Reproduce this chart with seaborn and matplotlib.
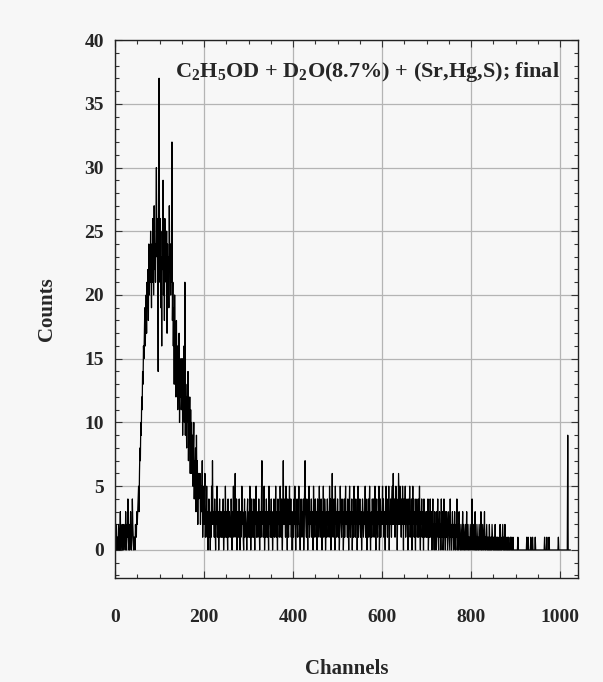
import numpy as np
import matplotlib.pyplot as plt
import seaborn as sns
from matplotlib.ticker import MultipleLocator

# counts per channel (estimated)
counts_low = [1, 0, 1, 2, 0, 1, 1, 0, 2, 1, 0, 1, 3, 0, 1, 1, 2, 0, 1, 0,
              2, 1, 1, 0, 3, 1, 0, 2, 1, 4, 1, 0, 2, 0, 1, 3, 1, 0, 1, 4,
              2, 1, 0, 1, 1, 0, 2, 1, 1, 3]
counts_rise = [2, 3, 4, 5, 3, 6, 8, 7, 10, 9, 12, 11, 14, 13, 16, 15, 17, 19, 16, 18,
               20, 17, 21, 19, 22, 18, 24, 20, 23, 21, 25, 22, 19, 24, 21, 26, 23, 20, 27, 22,
               24, 21, 25, 30, 23, 26, 22, 14, 28, 37]
counts_peak = [24, 21, 26, 19, 23, 16, 25, 22, 29, 20, 24, 18, 26, 22, 25, 21, 25, 17, 24, 20,
               23, 19, 27, 22, 24, 20, 24, 21, 32, 18, 21, 16, 19, 13, 20, 15, 17, 12, 18, 14,
               16, 11, 15, 13, 17, 10, 14, 12, 15, 11]
counts_fall = [12, 15, 9, 13, 11, 16, 10, 21, 9, 13, 11, 8, 12, 10, 14, 7, 11, 9, 12, 6,
               11, 6, 10, 7, 9, 5, 8, 10, 4, 7, 6, 8, 3, 9, 5, 7, 2, 6, 4, 6,
               5, 6, 2, 5, 3, 4, 7, 1, 3, 5, 2, 4, 6, 1, 3, 2, 5, 1, 3, 0,
               2, 4, 1, 3, 0, 2, 1, 5, 2, 7]
counts_tail_a = [3, 2, 3, 1, 4, 2, 0, 3, 2, 5, 1, 2, 3, 0, 2, 4, 1, 3, 2, 1,
                 3, 1, 2, 4, 0, 2, 3, 1, 5, 2, 1, 3, 2, 0, 4, 2, 1, 3, 2, 2,
                 1, 4, 2, 0, 3, 2, 5, 1, 2, 3, 6, 2, 1, 4, 0, 2, 3, 1, 2, 4,
                 2, 0, 3, 1, 2, 5, 2, 3, 1, 0, 2, 4, 1, 3, 2, 2, 0, 3, 4, 1,
                 2, 3, 1, 5, 2, 0, 2, 4, 1, 3, 2, 1, 4, 2, 0, 3, 2, 5, 1, 2,
                 3, 1, 2, 4, 2, 0, 3, 2, 1, 4, 7, 2, 3, 1, 2, 5, 0, 2, 3, 1,
                 4, 2, 1, 3, 2, 0, 5, 2, 3, 1, 2, 4, 1, 3, 0, 2, 2, 4, 1, 3,
                 2, 5, 1, 3, 2, 0, 4, 2, 3, 1, 2, 5, 3, 1, 4, 2, 0, 3, 7, 2,
                 4, 2, 3, 1, 5, 2, 3, 0, 4, 2, 1, 3, 5, 2, 2, 4, 1, 3, 0, 2,
                 3, 1, 4, 2, 5, 2, 0, 3, 2, 4, 1, 3, 2, 5, 1, 2, 0, 3, 4, 2,
                 1, 3, 2, 4, 0, 2, 5, 7, 3, 2, 1, 4, 2, 0, 3, 2, 5, 1, 2, 3,
                 2, 4, 1, 3, 2, 0, 5, 2, 3, 1, 4, 2, 2, 3, 0, 4, 1, 3, 2, 5,
                 2, 1, 3, 4, 2, 0, 3, 2, 5, 1, 2, 4, 3, 0, 2, 3, 1, 4, 2, 2,
                 3, 1, 5, 2, 4, 0, 2, 3, 6, 2, 1, 3, 4, 2, 0, 5, 2, 3, 1, 2]
counts_tail_b = [4, 2, 1, 3, 0, 2, 5, 3, 2, 1, 4, 2, 3, 0, 2, 4, 1, 3, 5, 2,
                 2, 3, 1, 4, 2, 0, 3, 5, 2, 1, 3, 2, 4, 0, 2, 3, 1, 5, 2, 3,
                 1, 4, 2, 3, 0, 2, 5, 1, 3, 2, 4, 2, 1, 3, 0, 2, 4, 3, 1, 2,
                 3, 2, 5, 1, 4, 2, 0, 3, 2, 4, 1, 3, 5, 2, 0, 2, 3, 1, 4, 2,
                 2, 4, 1, 3, 5, 2, 0, 3, 4, 2, 1, 3, 2, 5, 0, 2, 4, 1, 3, 2,
                 3, 5, 2, 4, 1, 3, 2, 0, 4, 5, 2, 3, 1, 4, 2, 5, 0, 3, 2, 4,
                 3, 1, 4, 5, 2, 6, 3, 2, 4, 1, 3, 5, 2, 4, 0, 3, 2, 6, 4, 2,
                 5, 2, 3, 1, 4, 2, 5, 3, 0, 4, 2, 3, 5, 1, 3, 2, 4, 2, 0, 3,
                 4, 2, 5, 1, 3, 2, 4, 0, 3, 5, 2, 4, 1, 3, 2, 0, 4, 2, 3, 1,
                 2, 4, 1, 3, 5, 2, 0, 3, 2, 4, 1, 2, 3, 0, 4, 2, 1, 3, 2, 1,
                 3, 1, 2, 4, 0, 2, 3, 1, 4, 2, 1, 3, 0, 2, 4, 1, 2, 0, 3, 1,
                 2, 0, 3, 1, 2, 4, 1, 0, 2, 3, 1, 2, 0, 4, 1, 2, 3, 0, 1, 4,
                 1, 2, 0, 3, 1, 3, 2, 0, 1, 3, 2, 1, 0, 4, 1, 2, 0, 1, 3, 1,
                 2, 0, 1, 3, 1, 0, 2, 1, 4, 0, 1, 2, 0, 3, 1, 1, 0, 2, 1, 0,
                 1, 3, 0, 2, 1, 0, 1, 2, 0, 1, 3, 0, 1, 2, 0, 1, 1, 0, 2, 1]
counts_fade = [0, 1, 4, 1, 0, 2, 1, 0, 1, 3, 0, 1, 0, 2, 1, 0, 1, 0, 2, 1,
               0, 1, 3, 0, 1, 0, 2, 1, 0, 1, 3, 0, 1, 0, 1, 2, 0, 1, 0, 1,
               0, 2, 0, 1, 0, 1, 0, 2, 1, 0, 1, 0, 1, 0, 2, 0, 1, 0, 1, 0,
               1, 0, 0, 1, 0, 2, 0, 1, 0, 0, 1, 2, 0, 1, 0, 0, 2, 0, 1, 0,
               0, 1, 0, 0, 1, 0, 0, 0, 1, 0, 1, 0, 0, 0, 1, 0, 0, 0, 0, 0,
               0, 0, 0, 0, 0, 1, 0, 0, 0, 0, 0, 0, 0, 0, 0, 0, 0, 0, 0, 0,
               0, 0, 0, 0, 0, 1, 0, 0, 1, 0, 0, 0, 0, 0, 1, 0, 0, 0, 1, 0,
               0, 0, 0, 0, 1, 0, 0, 0, 0, 0, 0, 0, 0, 0, 0, 0, 0, 0, 0, 0,
               0, 0, 0, 0, 0, 1, 0, 0, 0, 0, 1, 0, 0, 0, 0, 1, 0, 0, 0, 0,
               0, 0, 0, 0, 0, 0, 0, 0, 0, 0, 0, 0, 0, 0, 0, 0, 1, 0, 0, 0,
               0, 0, 0, 0, 0, 0, 0, 0, 0, 0, 0, 0, 0, 0, 0, 0, 0, 9, 0, 0,
               0, 0, 0, 0]

counts = np.concatenate([counts_low, counts_rise, counts_peak, counts_fall,
                         counts_tail_a, counts_tail_b, counts_fade])
channels = np.arange(len(counts))

x_ticks = [0, 200, 400, 600, 800, 1000]
y_ticks = [0, 5, 10, 15, 20, 25, 30, 35, 40]
title_text = r"C$_2$H$_5$OD + D$_2$O(8.7%) + (Sr,Hg,S); final"

sns.set_theme(style="ticks")
plt.rcParams["font.family"] = ["Liberation Serif", "DejaVu Serif"]
plt.rcParams["font.weight"] = "bold"
plt.rcParams["mathtext.fontset"] = "custom"
plt.rcParams["mathtext.rm"] = "Liberation Serif:bold"
plt.rcParams["mathtext.it"] = "Liberation Serif:bold"
plt.rcParams["mathtext.default"] = "rm"

bg = "#f7f7f7"
fig = plt.figure(figsize=(6.03, 6.82), dpi=100, facecolor=bg)
ax = fig.add_axes([0.1907, 0.1525, 0.7678, 0.7888], facecolor=bg)

sns.lineplot(x=channels, y=counts, color="black", linewidth=0.9,
             estimator=None, ax=ax)

ax.set_xlim(0, 1040)
ax.set_ylim(-2.2, 40)
ax.set_xticks(x_ticks)
ax.set_yticks(y_ticks)
ax.xaxis.set_minor_locator(MultipleLocator(50))
ax.yaxis.set_minor_locator(MultipleLocator(1))
ax.grid(True, which="major", color="#b4b4b4", linewidth=0.9)
ax.set_axisbelow(True)

ax.tick_params(which="both", direction="in", top=True, right=True,
               color="#333333", width=0.8)
ax.tick_params(which="major", length=5, labelsize=14)
ax.tick_params(which="minor", length=3)
ax.tick_params(axis="x", pad=22)
ax.tick_params(axis="y", pad=8)
for s in ax.spines.values():
    s.set_color("#222222")
    s.set_linewidth(1.0)

ax.set_xlabel("Channels", fontsize=15, fontweight="bold")
ax.set_ylabel("Counts", fontsize=15, fontweight="bold")
ax.xaxis.set_label_coords(0.5, -0.15)
ax.yaxis.set_label_coords(-0.125, 0.5)

ax.text(0.1296, 0.931, title_text, transform=ax.transAxes, fontsize=16,
        fontweight="bold", va="baseline", ha="left")

fig.savefig("out.png", dpi=100, facecolor=bg)
